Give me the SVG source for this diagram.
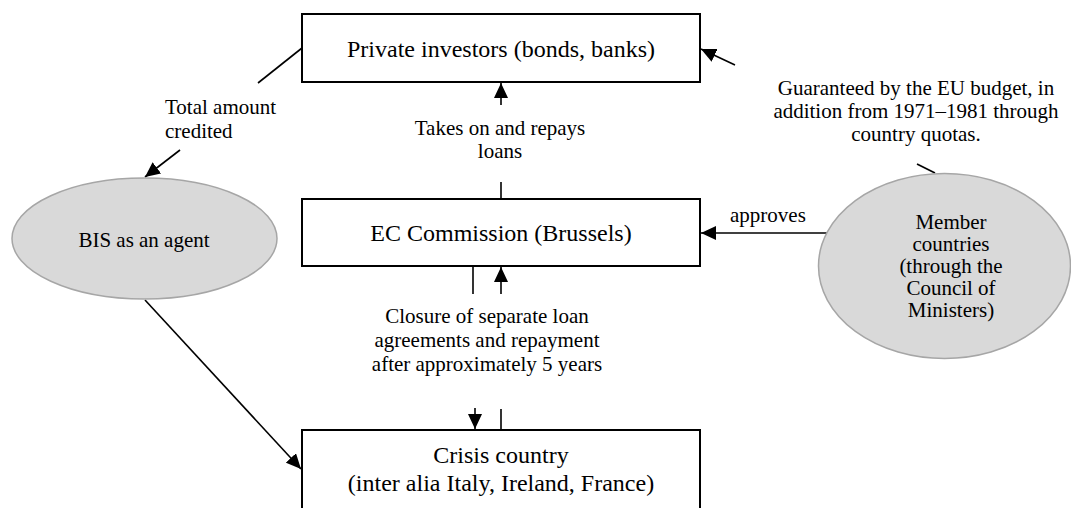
<svg xmlns="http://www.w3.org/2000/svg" width="1071" height="508" viewBox="0 0 1071 508">
<defs>
<marker id="ah" markerUnits="userSpaceOnUse" markerWidth="16" markerHeight="14" refX="15" refY="7" orient="auto">
<path d="M0,0 L15,7 L0,14 z" fill="#000"/>
</marker>
</defs>
<style>
.box{fill:#fff;stroke:#000;stroke-width:2}
.ell{fill:#d9d9d9;stroke:#a6a6a6;stroke-width:1.5}
.bt{font-family:"Liberation Serif","Times New Roman",serif;font-size:24px;fill:#000;text-anchor:middle}
.lt{font-family:"Liberation Serif","Times New Roman",serif;font-size:21px;fill:#000}
.c{text-anchor:middle}
.ln{stroke:#000;stroke-width:1.6;fill:none}
.ar{marker-end:url(#ah)}
</style>
<rect width="1071" height="508" fill="#fff"/>
<g id="connectors">
<line class="ln" x1="302" y1="48" x2="258" y2="83"/>
<line class="ln ar" x1="180" y1="150" x2="145" y2="177"/>
<line class="ln ar" x1="145" y1="300" x2="301" y2="469"/>
<line class="ln ar" x1="735" y1="65" x2="701" y2="49"/>
<line class="ln ar" x1="501" y1="105" x2="501" y2="83"/>
<line class="ln" x1="501" y1="182" x2="501" y2="199"/>
<line class="ln ar" x1="827" y1="233" x2="701" y2="233"/>
<line class="ln" x1="917" y1="164" x2="935" y2="173"/>
<line class="ln" x1="473" y1="266" x2="473" y2="294"/>
<line class="ln ar" x1="501" y1="294" x2="501" y2="267"/>
<line class="ln ar" x1="475" y1="408" x2="475" y2="429"/>
<line class="ln" x1="501" y1="409" x2="501" y2="430"/>
<text class="lt" x="165" y="114">Total amount</text>
<text class="lt" x="165" y="138">credited</text>
<text class="lt c" x="500" y="135">Takes on and repays</text>
<text class="lt c" x="500" y="158">loans</text>
<text class="lt" x="730" y="222">approves</text>
<text class="lt c" x="916" y="95">Guaranteed by the EU budget, in</text>
<text class="lt c" x="916" y="118">addition from 1971–1981 through</text>
<text class="lt c" x="916" y="141">country quotas.</text>
<text class="lt c" x="487" y="323">Closure of separate loan</text>
<text class="lt c" x="487" y="347">agreements and repayment</text>
<text class="lt c" x="487" y="371">after approximately 5 years</text>
</g>
<g id="private-investors">
<rect class="box" x="302" y="14" width="398" height="68"/>
<text class="bt" x="501" y="57">Private investors (bonds, banks)</text>
</g>
<g id="ec-commission">
<rect class="box" x="302" y="199" width="398" height="67"/>
<text class="bt" x="501" y="241">EC Commission (Brussels)</text>
</g>
<g id="crisis-country">
<rect class="box" x="302" y="430" width="398" height="82"/>
<text class="bt" x="501" y="463">Crisis country</text>
<text class="bt" x="501" y="491">(inter alia Italy, Ireland, France)</text>
</g>
<g id="bis">
<ellipse class="ell" cx="144.5" cy="238.5" rx="132.5" ry="60.5"/>
<text class="lt c" x="144" y="247">BIS as an agent</text>
</g>
<g id="member-countries">
<ellipse class="ell" cx="944.5" cy="266" rx="126" ry="92.5"/>
<text class="lt c" x="951" y="229">Member</text>
<text class="lt c" x="951" y="251">countries</text>
<text class="lt c" x="951" y="273">(through the</text>
<text class="lt c" x="951" y="295">Council of</text>
<text class="lt c" x="951" y="317">Ministers)</text>
</g>
</svg>
